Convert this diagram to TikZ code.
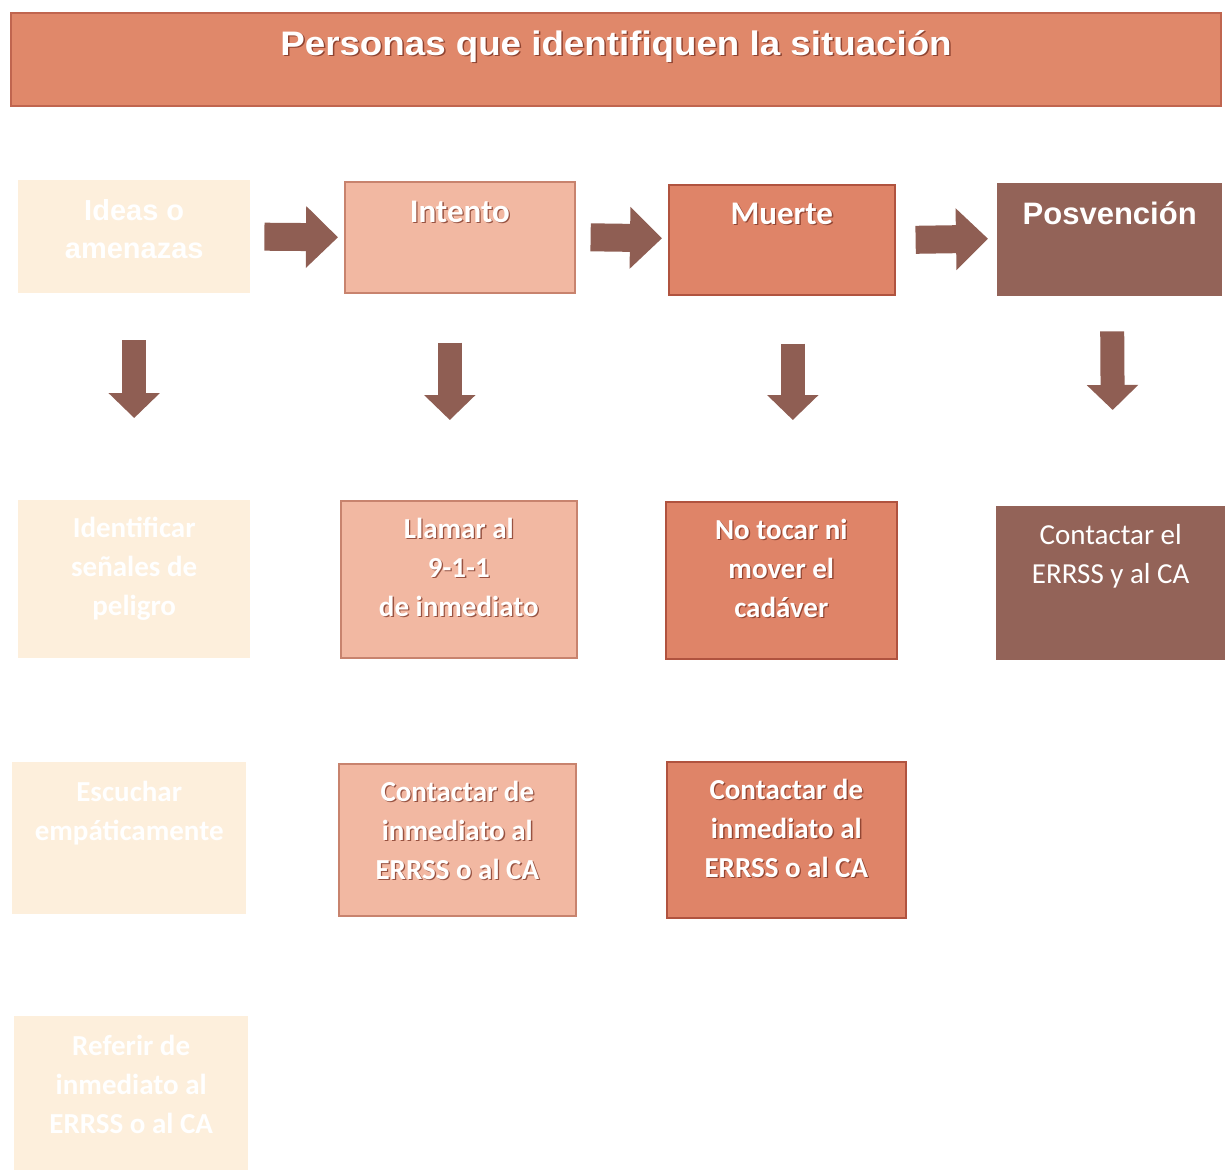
\documentclass[tikz,border=0pt]{standalone}
\usepackage{fontspec}
\setmainfont{Carlito}
\newfontfamily\arialf{Liberation Sans}
\newfontfamily\arialw[FakeStretch=1.08]{Liberation Sans}
\usetikzlibrary{arrows.meta}
\definecolor{ghost}{HTML}{FDEFDC}
\definecolor{paleS}{HTML}{F2B8A2}
\definecolor{paleB}{HTML}{C8836E}
\definecolor{midS}{HTML}{DF8468}
\definecolor{midB}{HTML}{B0533F}
\definecolor{darkS}{HTML}{936358}
\definecolor{arr}{HTML}{8F5E53}
\definecolor{titS}{HTML}{E0886A}
\definecolor{titB}{HTML}{C0654F}
\definecolor{shad}{HTML}{7A3222}
\tikzset{
  boxghost/.style={fill=ghost, draw=none, anchor=north west, inner sep=0pt},
  boxpale/.style={fill=paleS, draw=paleB, line width=1.6pt, anchor=north west, inner sep=0pt},
  boxmid/.style={fill=midS, draw=midB, line width=1.6pt, anchor=north west, inner sep=0pt},
  boxdark/.style={fill=darkS, draw=none, anchor=north west, inner sep=0pt},
  txt/.style={text=white, anchor=north, inner sep=0pt, align=center, font=\fontsize{29}{39}\selectfont},
  txtb/.style={txt, font=\fontsize{29}{39}\selectfont\bfseries},
  shadowt/.style={text=shad, opacity=0.75, xshift=1.3pt, yshift=-1.3pt},
  harrow/.style={draw=arr, line width=28pt, -{Triangle[length=32pt,width=60pt]}},
  varrow/.style={draw=arr, line width=24pt, -{Triangle[length=25pt,width=50pt]}},
}
\begin{document}
\begin{tikzpicture}[x=1pt,y=-1pt]
\useasboundingbox (0,0) rectangle (1225,1170);
% title
\node[fill=titS, draw=titB, line width=2pt, anchor=north west, inner sep=0pt, minimum width=1210pt, minimum height=93pt] (title) at (10,12) {};
\node[anchor=north, inner sep=0pt, text=shad, opacity=0.8, font=\arialw\bfseries\fontsize{34}{40}\selectfont, xshift=1.5pt, yshift=-19.5pt] (titleshadow) at (title.north) {Personas que identifiquen la situación};
\node[anchor=north, inner sep=0pt, text=white, font=\arialw\bfseries\fontsize{34}{40}\selectfont, yshift=-18pt] (titletext) at (title.north) {Personas que identifiquen la situación};

% row 1
\node[boxghost, minimum width=232pt, minimum height=113pt] (ideas) at (18,180) {};
\node[boxpale, minimum width=230pt, minimum height=111pt] (intento) at (344,181) {};
\node[boxmid, minimum width=226pt, minimum height=110pt] (muerte) at (668,184) {};
\node[boxdark, minimum width=225pt, minimum height=113pt] (posv) at (997,183) {};

\node[txt, font=\arialf\bfseries\fontsize{29}{38}\selectfont, yshift=-19pt] (ideasT) at (ideas.north) {Ideas o\\amenazas};
\node[txtb, shadowt, font=\fontsize{33}{39}\selectfont\bfseries, yshift=-19.5pt] (intentoS) at (intento.north) {Intento};
\node[txtb, font=\fontsize{33}{39}\selectfont\bfseries, yshift=-19.5pt] (intentoT) at (intento.north) {Intento};
\node[txtb, shadowt, font=\fontsize{33}{39}\selectfont\bfseries, yshift=-18.5pt] (muerteS) at (muerte.north) {Muerte};
\node[txtb, font=\fontsize{33}{39}\selectfont\bfseries, yshift=-18.5pt] (muerteT) at (muerte.north) {Muerte};
\node[txt, font=\arialf\bfseries\fontsize{31}{38}\selectfont, yshift=-19pt] (posvT) at (posv.north) {Posvención};

% row 2
\node[boxghost, minimum width=232pt, minimum height=158pt] (ident) at (18,500) {};
\node[boxpale, minimum width=236pt, minimum height=157pt] (llamar) at (340,500) {};
\node[boxmid, minimum width=231pt, minimum height=157pt] (notocar) at (665,501) {};
\node[boxdark, minimum width=229pt, minimum height=154pt] (contpos) at (996,506) {};

\node[txtb, yshift=-17pt] (identT) at (ident.north) {Identificar\\señales de\\peligro};
\node[txtb, shadowt, yshift=-18pt] (llamarS) at (llamar.north) {Llamar al\\9-1-1\\de inmediato};
\node[txtb, yshift=-18pt] (llamarT) at (llamar.north) {Llamar al\\9-1-1\\de inmediato};
\node[txtb, shadowt, yshift=-18pt] (notocarS) at (notocar.north) {No tocar ni\\mover el\\cadáver};
\node[txtb, yshift=-18pt] (notocarT) at (notocar.north) {No tocar ni\\mover el\\cadáver};
\node[txt, yshift=-18pt] (contposT) at (contpos.north) {Contactar el\\ERRSS y al CA};

% row 3
\node[boxghost, minimum width=234pt, minimum height=152pt] (escuchar) at (12,762) {};
\node[boxpale, minimum width=237pt, minimum height=152pt] (contint) at (338,763) {};
\node[boxmid, minimum width=239pt, minimum height=156pt] (contmue) at (666,761) {};

\node[txtb, yshift=-19pt] (escucharT) at (escuchar.north) {Escuchar\\empáticamente};
\node[txtb, shadowt, yshift=-18pt] (contintS) at (contint.north) {Contactar de\\inmediato al\\ERRSS o al CA};
\node[txtb, yshift=-18pt] (contintT) at (contint.north) {Contactar de\\inmediato al\\ERRSS o al CA};
\node[txtb, shadowt, yshift=-18pt] (contmueS) at (contmue.north) {Contactar de\\inmediato al\\ERRSS o al CA};
\node[txtb, yshift=-18pt] (contmueT) at (contmue.north) {Contactar de\\inmediato al\\ERRSS o al CA};

% row 4
\node[boxghost, minimum width=234pt, minimum height=154pt] (referir) at (14,1016) {};
\node[txtb, yshift=-19pt] (referirT) at (referir.north) {Referir de\\inmediato al\\ERRSS o al CA};

% horizontal arrows
\draw[harrow] ([xshift=14pt,yshift=0pt]ideas.east) -- ([xshift=-6pt,yshift=0pt]intento.west);
\draw[harrow] ([xshift=15pt]intento.east) -- ([xshift=-6pt,yshift=1.5pt]muerte.west);
\draw[harrow] ([xshift=20pt]muerte.east) -- ([xshift=-9pt,yshift=1pt]posv.west);

% vertical arrows
\draw[varrow] ([yshift=-47pt]ideas.south) -- ([xshift=0pt,yshift=82pt]ident.north);
\draw[varrow] ([xshift=-10pt,yshift=-49pt]intento.south) -- ([xshift=-9pt,yshift=80pt]llamar.north);
\draw[varrow] ([xshift=11pt,yshift=-48pt]muerte.south) -- ([xshift=11.5pt,yshift=81pt]notocar.north);
\draw[varrow] ([xshift=2.5pt,yshift=-35pt]posv.south) -- ([xshift=2pt,yshift=96pt]contpos.north);
\end{tikzpicture}
\end{document}
